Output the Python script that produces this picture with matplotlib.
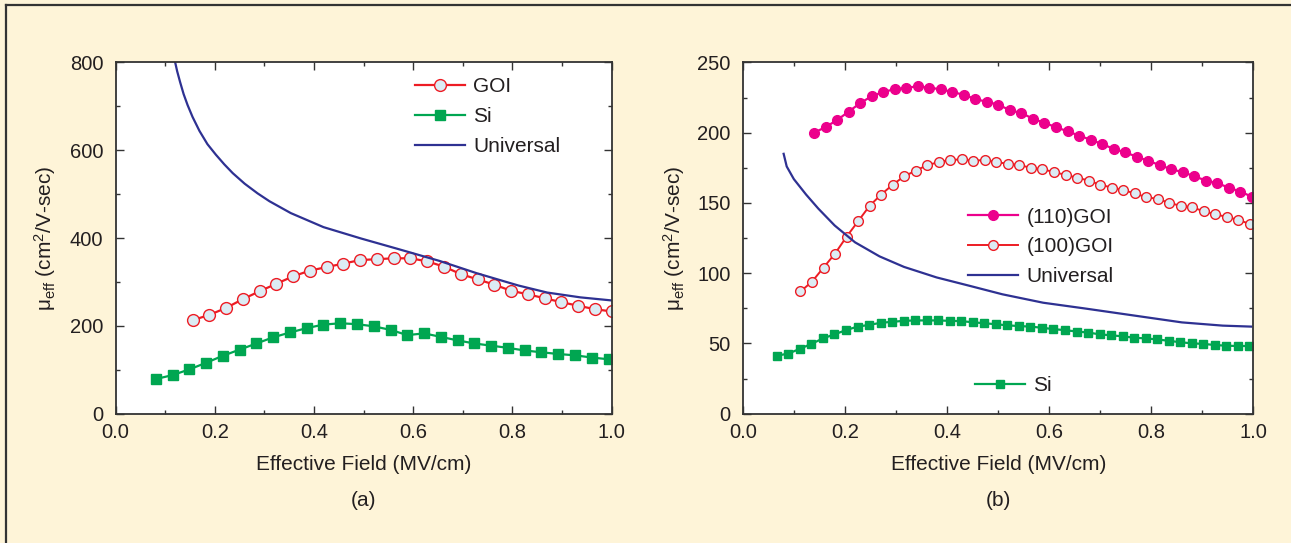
import matplotlib
matplotlib.use("Agg")
import matplotlib.pyplot as plt
from matplotlib.lines import Line2D
from matplotlib.ticker import MultipleLocator, FormatStrFormatter

plt.rcParams['font.family'] = ['Liberation Sans', 'DejaVu Sans']
plt.rcParams['mathtext.fontset'] = 'custom'
plt.rcParams['mathtext.rm'] = 'Liberation Sans'
plt.rcParams['mathtext.it'] = 'Liberation Sans:italic'

##################
# Data, panel (a) #
##################
a_goi_x = [0.155 + 0.0338 * i for i in range(26)]
a_goi_y = [213, 225, 241, 261, 279, 296, 313, 326, 334, 342, 350, 352, 354,
           354, 347, 335, 318, 306, 294, 280, 272, 263, 254, 246, 238, 233]

a_si_x = [0.081 + 0.0338 * i for i in range(28)]
a_si_y = [79, 88, 101, 116, 132, 146, 160, 174, 185, 195, 203, 206, 204, 199,
          191, 179, 183, 175, 167, 160, 155, 150, 144, 140, 136, 133, 128, 124]

a_uni_x = [0.120, 0.124, 0.130, 0.137, 0.145, 0.155, 0.169, 0.185, 0.202,
           0.219, 0.236, 0.260, 0.286, 0.310, 0.353, 0.419, 0.495, 0.570,
           0.653, 0.728, 0.812, 0.870, 0.937, 1.000]
a_uni_y = [800, 780, 755, 728, 703, 676, 644, 614, 590, 568, 548, 524, 502,
           484, 457, 425, 399, 375, 348, 320, 292, 276, 265, 258]

##################
# Data, panel (b) #
##################
b_110_x = [0.1385 + 0.0226 * i for i in range(39)]
b_110_y = [200, 204, 209, 215, 221, 226, 229, 231, 232, 233, 232, 231, 229,
           227, 224, 222, 220, 216, 214, 210, 207, 204, 201, 198, 195, 192,
           188.5, 186, 183, 180, 177, 174, 172, 169, 166, 164, 161, 158, 154.5]

b_100_x = [0.112 + 0.0226 * i for i in range(40)]
b_100_y = [87, 94, 104, 114, 126, 137, 148, 156, 163, 169, 173, 177, 179,
           180.7, 181, 180, 180.7, 179, 178, 177, 175, 174, 172, 170, 168,
           166, 163, 161, 159, 157, 154, 153, 150, 148, 147, 144, 142, 140,
           138, 135]

b_si_x = [0.0657 + 0.0226 * i for i in range(42)]
b_si_y = [41.3, 42.8, 46.2, 49.7, 53.6, 56.5, 59.5, 62, 63.2, 64.7, 65.4, 66.1,
          66.4, 66.4, 66.4, 66.1, 65.9, 65.1, 64.4, 63.7, 62.9, 62.4, 62, 61.2,
          60.2, 59.5, 58.5, 57.8, 56.5, 55.8, 55.1, 54.1, 53.6, 52.9, 51.9,
          50.9, 50.1, 49.7, 48.9, 48.4, 48.2, 48.2]

b_uni_x = [0.079, 0.085, 0.099, 0.123, 0.147, 0.179, 0.219, 0.267, 0.315,
           0.379, 0.444, 0.508, 0.588, 0.668, 0.764, 0.860, 0.940, 0.996]
b_uni_y = [185, 176, 167, 156, 146, 134, 122, 112, 104.5, 97, 91, 85, 79, 75,
           70, 65, 62.7, 62]

# Styles
BG = '#fef4d8'
RED = '#ed1c24'
GREEN = '#00a651'
NAVY = '#2e3192'
MAGENTA = '#ec008c'
FACE = '#dcecf4'
TXT = '#231f20'
FS = 15

fig = plt.figure(figsize=(12.91, 5.43), dpi=100, facecolor=BG)
ax_a = fig.add_axes([0.0896, 0.2381, 0.3842, 0.6468])
ax_b = fig.add_axes([0.5758, 0.2381, 0.3950, 0.6468])

# border lines (top and left)
fig.add_artist(Line2D([6 / 1291, 1], [1 - 5 / 543, 1 - 5 / 543], transform=fig.transFigure,
                      color='#333333', lw=1.6))
fig.add_artist(Line2D([6 / 1291, 6 / 1291], [0, 1 - 5 / 543], transform=fig.transFigure,
                      color='#333333', lw=1.6))

leg_kw = dict(loc='upper left', frameon=False, fontsize=FS, handlelength=2.4,
              handletextpad=0.4, labelspacing=0.52, borderpad=0, borderaxespad=0)

# panel (a)
ax_a.plot(a_goi_x, a_goi_y, '-o', color=RED, lw=1.6, ms=8.5, mfc=FACE, mec=RED, mew=1.0, label='GOI')
ax_a.plot(a_si_x, a_si_y, '-s', color=GREEN, lw=1.6, ms=6.5, mfc=GREEN, mec=GREEN, label='Si')
ax_a.plot(a_uni_x, a_uni_y, '-', color=NAVY, lw=1.6, label='Universal')
ax_a.set_ylim(0, 800)
ax_a.yaxis.set_major_locator(MultipleLocator(200))
ax_a.yaxis.set_minor_locator(MultipleLocator(100))
leg = ax_a.legend(bbox_to_anchor=(0.603, 0.958), **leg_kw)
for t in leg.get_texts():
    t.set_color(TXT)

# panel (b)
l110, = ax_b.plot(b_110_x, b_110_y, '-o', color=MAGENTA, lw=1.6, ms=7, mfc=MAGENTA, mec=MAGENTA,
                  label='(110)GOI')
l100, = ax_b.plot(b_100_x, b_100_y, '-o', color=RED, lw=1.4, ms=7, mfc=FACE, mec=RED, mew=1.0,
                  label='(100)GOI')
luni, = ax_b.plot(b_uni_x, b_uni_y, '-', color=NAVY, lw=1.6, label='Universal')
lsi, = ax_b.plot(b_si_x, b_si_y, '-s', color=GREEN, lw=1.6, ms=6, mfc=GREEN, mec=GREEN, label='Si')
ax_b.set_ylim(0, 250)
ax_b.yaxis.set_major_locator(MultipleLocator(50))
ax_b.yaxis.set_minor_locator(MultipleLocator(25))
leg1 = ax_b.legend(handles=[l110, l100, luni], bbox_to_anchor=(0.4406, 0.587), **leg_kw)
ax_b.add_artist(leg1)
leg2 = ax_b.legend(handles=[lsi], bbox_to_anchor=(0.454, 0.107), **leg_kw)
for lg in (leg1, leg2):
    for t in lg.get_texts():
        t.set_color(TXT)

for ax, lx in ((ax_a, -0.1425), (ax_b, -0.136)):
    ax.set_facecolor('white')
    ax.set_xlim(0, 1.0)
    ax.xaxis.set_major_locator(MultipleLocator(0.2))
    ax.xaxis.set_minor_locator(MultipleLocator(0.1))
    ax.xaxis.set_major_formatter(FormatStrFormatter('%.1f'))
    ax.tick_params(which='both', direction='in', top=True, right=True, colors='#333333',
                   labelcolor=TXT, labelsize=14.5, width=1.0)
    ax.tick_params(which='major', length=6)
    ax.tick_params(which='minor', length=3)
    ax.tick_params(axis='y', pad=9)
    ax.tick_params(axis='x', pad=7)
    for s in ax.spines.values():
        s.set_color('#333333')
        s.set_linewidth(1.3)
    ax.set_xlabel('Effective Field (MV/cm)', fontsize=FS, color=TXT)
    ax.xaxis.label.set_va('center')
    ax.xaxis.set_label_coords(0.5, -0.146)
    ax.set_ylabel('\u03bc$_{\\rm eff}$ (cm$^{2}$/V-sec)', fontsize=FS, color=TXT)
    ax.yaxis.label.set_va('center')
    ax.yaxis.set_label_coords(lx, 0.5)

fig.text(363.7 / 1291, 1 - 500 / 543, '(a)', ha='center', va='center', fontsize=FS, color=TXT)
fig.text(998.3 / 1291, 1 - 500 / 543, '(b)', ha='center', va='center', fontsize=FS, color=TXT)

fig.savefig('out.png', dpi=100, facecolor=BG)
